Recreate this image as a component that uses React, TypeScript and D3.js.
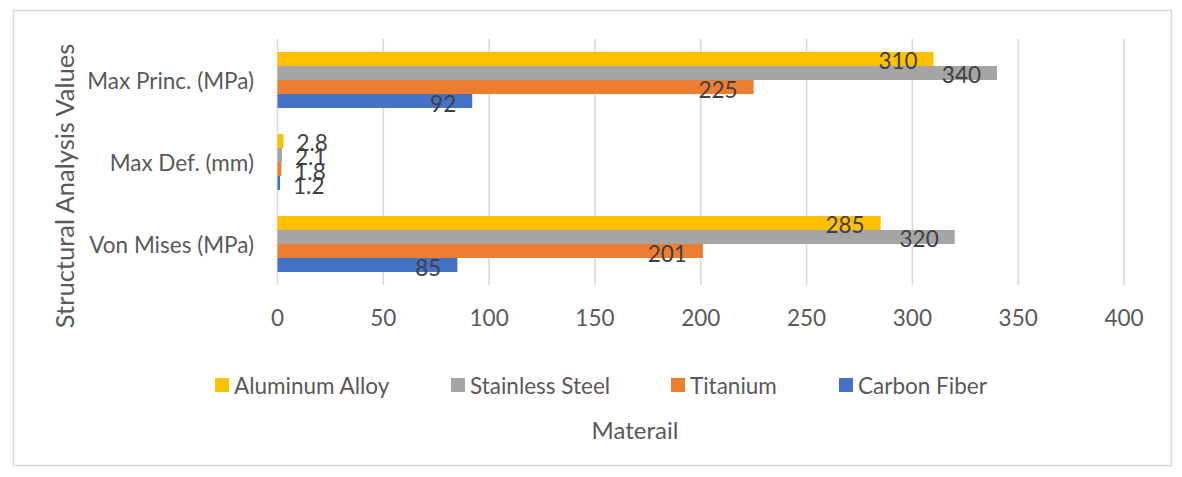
import React from 'react';
import * as d3 from 'd3';

// categories from top to bottom as drawn
const categories = ['Max Princ. (MPa)', 'Max Def. (mm)', 'Von Mises (MPa)'];
// series from top bar to bottom bar inside each group
const seriesNames = ['Aluminum Alloy', 'Stainless Steel', 'Titanium', 'Carbon Fiber'];
const seriesColors = ['#FFC000', '#A5A5A5', '#ED7D31', '#4472C4'];
const aluminumAlloy = [310, 2.8, 285];
const stainlessSteel = [340, 2.1, 320];
const titanium = [225, 1.8, 201];
const carbonFiber = [92, 1.2, 85];
const xTicks = [0, 50, 100, 150, 200, 250, 300, 350, 400];

const seriesValues = [aluminumAlloy, stainlessSteel, titanium, carbonFiber];

const App = () => {
  const width = 1182;
  const height = 477;
  const plotLeft = 277.5;
  const plotRight = 1124;
  const plotTop = 39;
  const plotBottom = 285;
  const font = 'Lato, "Liberation Sans", sans-serif';
  const textColor = '#595959';
  const fs = 22.5;

  const x = d3.scaleLinear().domain([0, 400]).range([plotLeft, plotRight]);
  const y = d3.scaleBand().domain(categories).range([plotTop, plotBottom]).paddingInner(0.3166).paddingOuter(0.1583);
  const inner = d3.scaleBand().domain(seriesNames).range([0, y.bandwidth()]);

  const legendX = [215, 451, 671, 839];

  return (
    <svg width={width} height={height} style={{ position: 'absolute', left: 0, top: 0, background: '#fff' }}>
      <rect x={13.5} y={10.5} width={1158} height={455} fill="#fff" stroke="#d9d9d9" strokeWidth={1.5} />

      {/* vertical grid lines */}
      {xTicks.map(t => (
        <line key={t} x1={x(t)} x2={x(t)} y1={plotTop} y2={plotBottom} stroke="#d9d9d9" strokeWidth={1.5} />
      ))}

      {/* bars */}
      {categories.map((c, ci) => (
        <g key={c}>
          {seriesNames.map((s, si) => (
            <rect
              key={s}
              x={x(0)}
              y={(y(c) as number) + (inner(s) as number)}
              width={x(seriesValues[si][ci]) - x(0)}
              height={inner.bandwidth()}
              fill={seriesColors[si]}
            />
          ))}
        </g>
      ))}

      {/* data labels */}
      {categories.map((c, ci) => (
        <g key={c + '-lbl'}>
          {seriesNames.map((s, si) => {
            const v = seriesValues[si][ci];
            const small = v < 20;
            return (
              <text
                key={s}
                x={small ? x(v) + 13 : x(v) - 16}
                y={(y(c) as number) + (inner(s) as number) + inner.bandwidth() / 2 + 2}
                dominantBaseline="central"
                textAnchor={small ? 'start' : 'end'}
                fontFamily={font}
                fontSize={fs}
                fill="#404040"
              >
                {v}
              </text>
            );
          })}
        </g>
      ))}

      {/* category labels */}
      {categories.map(c => (
        <text
          key={c + '-cat'}
          x={254}
          y={(y(c) as number) + y.bandwidth() / 2}
          dominantBaseline="central"
          textAnchor="end"
          fontFamily={font}
          fontSize={fs}
          fill={textColor}
        >
          {c}
        </text>
      ))}

      {/* x tick labels */}
      {xTicks.map(t => (
        <text key={t + '-t'} x={x(t)} y={317} dominantBaseline="central" textAnchor="middle" fontFamily={font} fontSize={fs} fill={textColor}>
          {t}
        </text>
      ))}

      {/* y axis title */}
      <text
        transform="translate(64,186) rotate(-90)"
        textAnchor="middle"
        dominantBaseline="central"
        fontFamily={font}
        fontSize={25.5}
        fill={textColor}
      >
        Structural Analysis Values
      </text>

      {/* legend */}
      {seriesNames.map((s, i) => (
        <g key={s + '-leg'} transform={`translate(${legendX[i]},385)`}>
          <rect x={0} y={-7} width={14} height={14} fill={seriesColors[i]} />
          <text x={19} y={0} dominantBaseline="central" fontFamily={font} fontSize={fs} fill={textColor}>
            {s}
          </text>
        </g>
      ))}

      {/* x axis title */}
      <text x={635} y={429} textAnchor="middle" dominantBaseline="central" fontFamily={font} fontSize={24} fill={textColor}>
        Materail
      </text>
    </svg>
  );
};

export default App;
